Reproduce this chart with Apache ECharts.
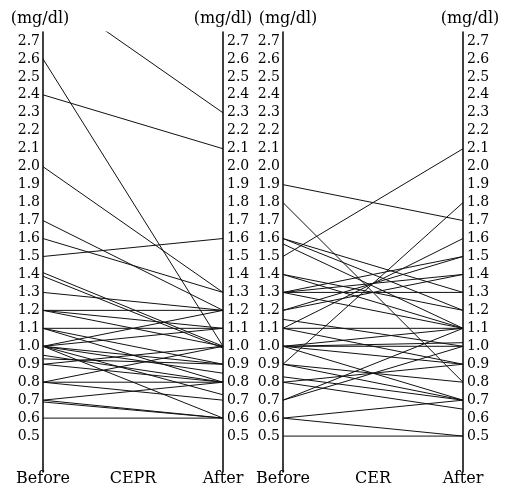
<!DOCTYPE html>
<html><head><meta charset="utf-8">
<script src="https://cdn.jsdelivr.net/npm/echarts@6/dist/echarts.min.js"></script>
<style>html,body{margin:0;padding:0;background:#fff}#c{width:505px;height:487px}</style>
</head><body><div id="c"></div>
<script>
var categoriesCEPR = ['Before', 'CEPR', 'After'];
var categoriesCER = ['Before', 'CER', 'After'];
var tickLabels = ['0.5','0.6','0.7','0.8','0.9','1.0','1.1','1.2','1.3','1.4','1.5','1.6','1.7','1.8','1.9','2.0','2.1','2.2','2.3','2.4','2.5','2.6','2.7'];
var unitLabel = '(mg/dl)';

var ceprBefore = [3.0, 2.6, 2.4, 2.0, 1.7, 1.6, 1.5, 1.41, 1.39, 1.3, 1.2, 1.2, 1.2, 1.1, 1.1, 1.1, 1.0, 1.0, 1.0, 1.0, 1.0, 1.0, 0.95, 0.93, 0.9, 0.9, 0.8, 0.8, 0.8, 0.7, 0.7, 0.69, 0.6];
var ceprAfter  = [2.3, 1.0, 2.1, 1.3, 1.2, 1.3, 1.6, 1.0, 0.99, 1.2, 1.2, 1.1, 1.0, 1.1, 0.9, 0.8, 1.2, 1.1, 0.9, 0.85, 0.73, 0.6, 0.8, 0.9, 1.0, 0.8, 1.0, 0.8, 0.7, 0.8, 0.6, 0.6, 0.6];

var cerBefore = [1.9, 1.8, 1.5, 1.6, 1.6, 1.57, 1.4, 1.4, 1.3, 1.3, 1.3, 1.3, 1.2, 1.2, 1.15, 1.1, 1.1, 1.1, 1.0, 1.0, 1.0, 1.0, 1.0, 0.9, 0.9, 0.9, 0.83, 0.8, 0.8, 0.7, 0.7, 0.6, 0.6, 0.5];
var cerAfter  = [1.7, 0.8, 2.1, 1.3, 1.2, 1.1, 1.2, 1.1, 1.3, 1.4, 1.5, 1.1, 1.4, 1.5, 1.0, 1.6, 1.1, 0.9, 1.0, 1.02, 0.9, 0.7, 1.1, 1.8, 0.8, 0.7, 0.7, 0.65, 0.9, 1.1, 1.0, 0.7, 0.5, 0.5];

var FONT = 'DejaVu Serif';
var chart = echarts.init(document.getElementById('c'));

function yAx(grid, pos, nameShift, margin) {
  return {
    type: 'value', gridIndex: grid, position: pos,
    min: 0.3, max: 2.75, interval: 0.1,
    name: unitLabel, nameLocation: 'end', nameGap: 5,
    nameTextStyle: { fontFamily: FONT, fontSize: 16, color: '#000', align: 'center', padding: nameShift },
    axisLine: { show: true, lineStyle: { color: '#000', width: 1.5 } },
    axisTick: { show: false },
    splitLine: { show: false },
    axisLabel: {
      margin: margin, color: '#000', fontFamily: FONT, fontSize: 14,
      formatter: function (v) {
        var s = (Math.round(v * 10) / 10).toFixed(1);
        return tickLabels.indexOf(s) >= 0 && Math.abs(v * 10 - Math.round(v * 10)) < 1e-6 ? s : '';
      }
    }
  };
}
function xAx(grid, cats) {
  return {
    type: 'category', gridIndex: grid, data: cats, boundaryGap: false,
    axisLine: { show: false }, axisTick: { show: false }, splitLine: { show: false },
    axisLabel: { margin: -1, color: '#000', fontFamily: FONT, fontSize: 16, interval: 0 }
  };
}
var series = [];
function addPairs(before, after, xi, yi) {
  for (var i = 0; i < before.length; i++) {
    series.push({
      type: 'line', xAxisIndex: xi, yAxisIndex: yi,
      data: [before[i], null, after[i]], connectNulls: true,
      symbol: 'none', silent: true, clip: true,
      lineStyle: { color: '#111', width: 1 }
    });
  }
}
addPairs(ceprBefore, ceprAfter, 0, 0);
addPairs(cerBefore, cerAfter, 1, 2);

chart.setOption({
  animation: false,
  backgroundColor: '#fff',
  grid: [
    { left: 43, right: 282, top: 32, bottom: 14 },
    { left: 283, right: 42, top: 32, bottom: 14 }
  ],
  xAxis: [xAx(0, categoriesCEPR), xAx(1, categoriesCER)],
  yAxis: [
    yAx(0, 'left', [0, 6, 0, 0], 3),
    yAx(0, 'right', [0, 0, 0, 0], 4),
    yAx(1, 'left', [0, 0, 0, 10], 3),
    yAx(1, 'right', [0, 0, 0, 14], 4)
  ],
  series: series
});
</script></body></html>
